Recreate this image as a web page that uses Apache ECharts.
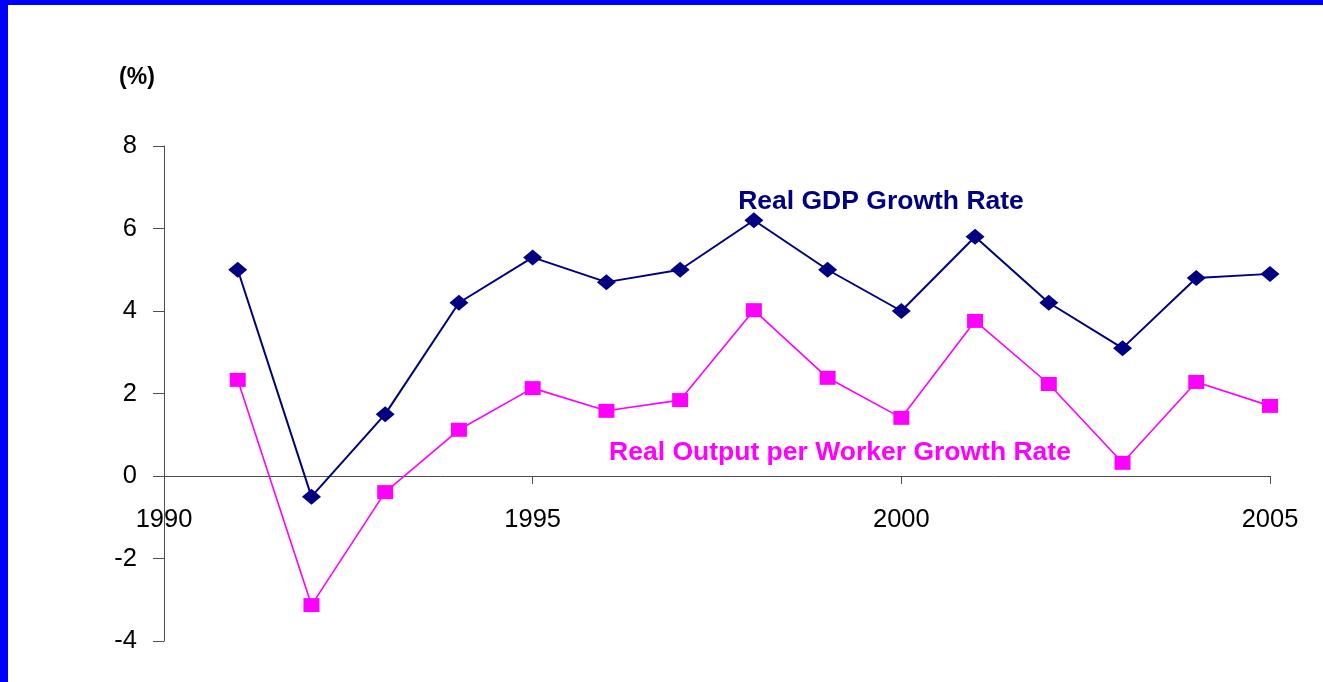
<!DOCTYPE html>
<html>
<head>
<meta charset="utf-8">
<style>
  html, body { margin: 0; padding: 0; background: #ffffff; }
  #chart { width: 1323px; height: 682px; }
</style>
<script src="https://cdn.jsdelivr.net/npm/echarts@6/dist/echarts.min.js"></script>
</head>
<body>
<div id="chart"></div>
<script>
// Annual growth rates, percent
const years = [1991, 1992, 1993, 1994, 1995, 1996, 1997, 1998, 1999, 2000, 2001, 2002, 2003, 2004, 2005];
const gdpGrowth = [5.0, -0.5, 1.5, 4.2, 5.3, 4.7, 5.0, 6.2, 5.0, 4.0, 5.8, 4.2, 3.1, 4.8, 4.9];
const outputPerWorkerGrowth = [2.33, -3.13, -0.39, 1.12, 2.13, 1.58, 1.84, 4.02, 2.38, 1.41, 3.76, 2.23, 0.32, 2.28, 1.70];
const yTicks = [-4, -2, 0, 2, 4, 6, 8];
const xTicks = [1990, 1995, 2000, 2005];

const FONT = '"Liberation Sans", Arial, sans-serif';
const W = 1323, H = 682;
const GRID = { left: 164, right: 53, top: 146, bottom: 41 };

const yMin = yTicks[0], yMax = yTicks[yTicks.length - 1];
// The year axis sits on the zero line, labels included
const plotHeight = H - GRID.top - GRID.bottom;
const xAxisOffset = -((0 - yMin) / (yMax - yMin)) * plotHeight;

const chart = echarts.init(document.getElementById('chart'), null, { renderer: 'canvas' });

const pair = (xs, ys) => xs.map((x, i) => [x, ys[i]]);

chart.setOption({
  animation: false,
  backgroundColor: '#ffffff',
  grid: Object.assign({ containLabel: false, outerBoundsMode: 'none' }, GRID),
  xAxis: {
    type: 'value',
    position: 'bottom',
    offset: xAxisOffset,
    min: xTicks[0],
    max: xTicks[xTicks.length - 1],
    interval: 5,
    axisLine: { onZero: false, lineStyle: { color: '#4d4d4d', width: 1 } },
    axisTick: { show: true, inside: false, length: 8, lineStyle: { color: '#4d4d4d' } },
    axisLabel: { margin: 31, fontFamily: FONT, fontSize: 25.5, color: '#000', formatter: v => String(v) },
    splitLine: { show: false }
  },
  yAxis: {
    type: 'value',
    min: yMin,
    max: yMax,
    interval: 2,
    axisLine: { show: true, onZero: false, lineStyle: { color: '#4d4d4d', width: 1 } },
    axisTick: { show: true, inside: false, length: 11, lineStyle: { color: '#4d4d4d' } },
    axisLabel: { margin: 27, fontFamily: FONT, fontSize: 25.5, color: '#000' },
    splitLine: { show: false }
  },
  series: [
    {
      name: 'Real GDP Growth Rate',
      type: 'line',
      data: pair(years, gdpGrowth),
      symbol: 'diamond',
      symbolSize: [19, 16],
      itemStyle: { color: '#000080' },
      lineStyle: { color: '#000080', width: 2 },
      z: 3
    },
    {
      name: 'Real Output per Worker Growth Rate',
      type: 'line',
      data: pair(years, outputPerWorkerGrowth),
      symbol: 'rect',
      symbolSize: [16, 14],
      itemStyle: { color: '#ff00ff' },
      lineStyle: { color: '#ff00ff', width: 1.6 },
      z: 2
    }
  ],
  graphic: [
    { type: 'rect', left: 0, top: 0, shape: { width: W, height: 5 }, style: { fill: '#0000ff' }, z: 100 },
    { type: 'rect', left: 0, top: 0, shape: { width: 8, height: H }, style: { fill: '#0000ff' }, z: 100 },
    {
      type: 'text', x: 137, y: 78,
      style: { text: '(%)', fontFamily: FONT, fontWeight: 'bold', fontSize: 23, fill: '#000', align: 'center', verticalAlign: 'middle' }
    },
    {
      type: 'text', x: 881, y: 202,
      style: { text: 'Real GDP Growth Rate', fontFamily: FONT, fontWeight: 'bold', fontSize: 26.5, fill: '#000080', align: 'center', verticalAlign: 'middle' }
    },
    {
      type: 'text', x: 840, y: 453,
      style: { text: 'Real Output per Worker Growth Rate', fontFamily: FONT, fontWeight: 'bold', fontSize: 26.5, fill: '#ff00ff', align: 'center', verticalAlign: 'middle' }
    }
  ]
});
</script>
</body>
</html>
